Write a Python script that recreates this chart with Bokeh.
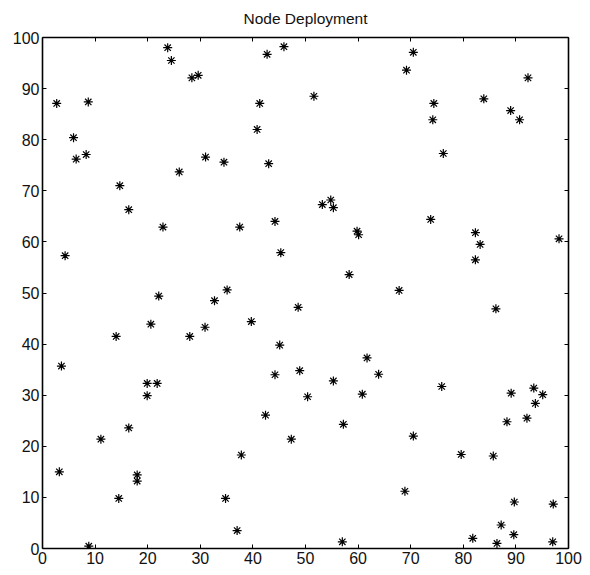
from bokeh.plotting import figure
from bokeh.models import LinearAxis, Range1d, FixedTicker, ColumnDataSource
from bokeh.embed import file_html
from bokeh.resources import INLINE

# Node coordinates (x, y)
node_x = [2.7, 5.9, 6.4, 8.3, 8.7, 14.7, 23.8, 24.5, 26.0, 28.4, 29.6, 31.0, 34.5, 40.8, 41.3, 42.7, 43.0, 45.9,
          51.6, 70.5, 69.2, 74.4, 74.2, 76.2, 83.9, 89.0, 90.7, 92.3,
          16.4, 22.9, 37.5, 44.2, 45.3, 4.3, 22.1, 35.1, 32.7, 48.6, 39.7, 20.6, 30.9, 28.0, 14.0, 45.1, 3.6, 44.2, 48.9, 19.9, 21.8,
          53.2, 54.8, 55.3, 59.8, 60.1, 73.8, 82.3, 83.2, 82.3, 98.2, 58.3, 67.8, 86.2, 61.7, 63.9, 55.3, 75.9,
          19.9, 3.2, 11.1, 16.4, 18.0, 18.0, 14.5, 8.8, 34.8, 37.0, 37.8, 42.4, 47.3,
          50.4, 60.8, 57.2, 70.5, 68.9, 79.6, 85.7, 89.1, 93.4, 95.1, 93.7, 92.1, 88.3, 89.7, 97.1, 87.2, 81.8, 86.4, 89.6, 97.0, 57.0]
node_y = [87.1, 80.4, 76.2, 77.1, 87.4, 71.0, 98.0, 95.5, 73.7, 92.1, 92.6, 76.6, 75.6, 82.0, 87.1, 96.7, 75.3, 98.2,
          88.5, 97.1, 93.6, 87.1, 83.9, 77.3, 88.0, 85.7, 83.9, 92.1,
          66.3, 62.9, 62.9, 64.0, 57.9, 57.3, 49.4, 50.6, 48.5, 47.2, 44.4, 43.9, 43.3, 41.5, 41.5, 39.8, 35.7, 34.0, 34.8, 32.3, 32.3,
          67.3, 68.2, 66.7, 62.1, 61.4, 64.4, 61.8, 59.5, 56.5, 60.6, 53.6, 50.5, 46.9, 37.3, 34.1, 32.8, 31.7,
          29.9, 15.0, 21.4, 23.6, 14.4, 13.2, 9.8, 0.45, 9.8, 3.5, 18.3, 26.1, 21.4,
          29.7, 30.2, 24.3, 22.0, 11.2, 18.4, 18.1, 30.4, 31.4, 30.1, 28.4, 25.5, 24.8, 9.1, 8.7, 4.6, 2.0, 1.0, 2.7, 1.3, 1.3]
tick_values = [0, 10, 20, 30, 40, 50, 60, 70, 80, 90, 100]
title_text = "Node Deployment"

FONT = "Liberation Sans"

p = figure(width=590, height=575, output_backend="svg", toolbar_location=None,
           x_range=Range1d(0, 100), y_range=Range1d(0, 100),
           min_border_left=42, min_border_right=22, min_border_top=37, min_border_bottom=27,
           title=title_text, x_axis_location=None, y_axis_location=None)
p.title.align = "center"
p.title.vertical_align = "top"
p.title.text_font = FONT
p.title.text_font_size = "15.5px"
p.title.text_font_style = "normal"
p.title.text_color = "#111111"
p.title.standoff = 17
p.grid.visible = False
p.outline_line_color = None
p.background_fill_color = "white"
p.border_fill_color = "white"

def mk_axis(show_labels):
    ax = LinearAxis(ticker=FixedTicker(ticks=tick_values))
    ax.major_tick_in = 4
    ax.major_tick_out = 0
    ax.minor_tick_in = 0
    ax.minor_tick_out = 0
    ax.axis_line_color = "black"
    ax.axis_line_width = 1.6
    ax.major_tick_line_color = "black"
    ax.major_tick_line_width = 1
    ax.major_label_text_font = FONT
    ax.major_label_text_font_size = "16px"
    ax.major_label_text_color = "#111111"
    ax.major_label_standoff = 3
    if not show_labels:
        ax.major_label_text_color = None
        ax.major_label_text_font_size = "1px"
        ax.major_label_standoff = 0
    return ax

p.add_layout(mk_axis(True), "below")
p.add_layout(mk_axis(True), "left")
p.add_layout(mk_axis(False), "above")
p.add_layout(mk_axis(False), "right")

src = ColumnDataSource(dict(x=node_x, y=node_y))
p.scatter("x", "y", source=src, marker="asterisk", size=9, line_color="black", line_width=1.2)

open("out.html", "w").write(file_html(p, INLINE))
